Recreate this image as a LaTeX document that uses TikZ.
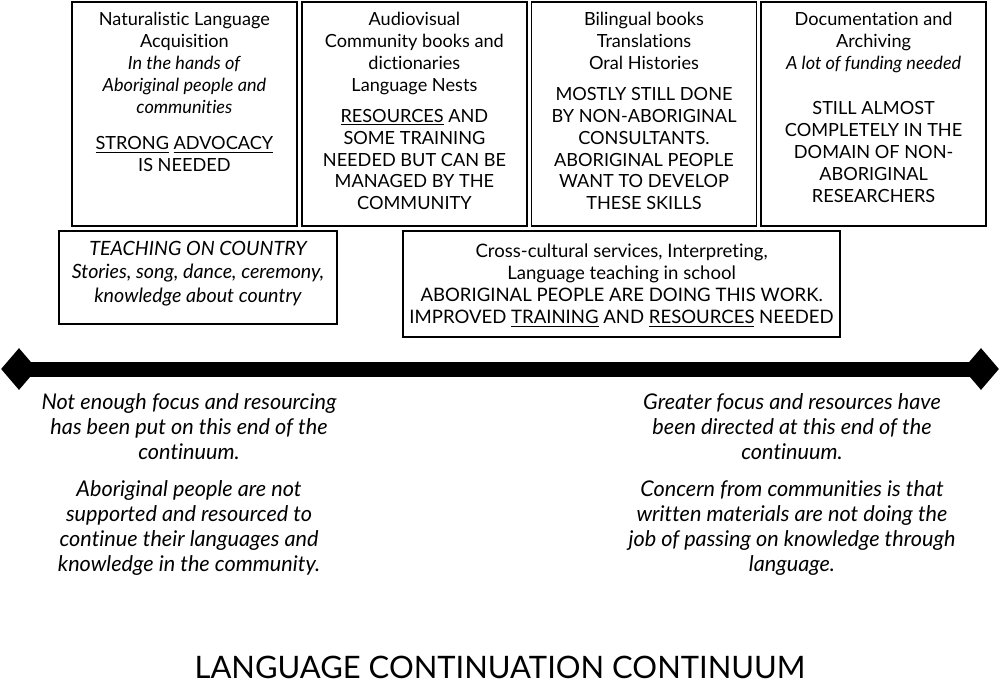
\documentclass[tikz,border=0pt]{standalone}
\usepackage{fontspec}
\setmainfont{Lato}[Ligatures=NoCommon]
\usetikzlibrary{positioning,shapes.geometric}

\tikzset{
  panel/.style={draw, line width=1.2pt, inner sep=0pt},
  paneltext/.style={align=center, inner sep=0pt, font=\fontsize{12.9}{15.6}\selectfont},
  note/.style={align=center, inner sep=0pt, font=\itshape\fontsize{15.4}{17.8}\selectfont},
  tip/.style={diamond, fill=black, inner sep=0pt, minimum width=0.9cm, minimum height=1.05cm}
}

\begin{document}
\begin{tikzpicture}
        \useasboundingbox (0,0) rectangle (25,-17.025);

        % upper boxes
        \node[panel, minimum width=5.62cm, minimum height=5.6cm] (nla) at (4.61,-2.85) {};
        \node[panel, minimum width=5.62cm, minimum height=5.6cm] (avc) at (10.36,-2.85) {};
        \node[panel, minimum width=5.62cm, minimum height=5.6cm] (bil) at (16.1,-2.85) {};
        \node[panel, minimum width=5.62cm, minimum height=5.6cm] (doc) at (21.84,-2.85) {};

        \node[paneltext, below=0.28cm of nla.north] (nlatext) {Naturalistic Language\\ Acquisition\\ \textit{In the hands of}\\ \textit{Aboriginal people and}\\ \textit{communities}\\[10pt] \underline{STRONG} \underline{ADVOCACY}\\ IS NEEDED};
        \node[paneltext, below=0.28cm of avc.north] (avctext) {Audiovisual\\ Community books and\\ dictionaries\\ Language Nests\\[6pt] \underline{RESOURCES} AND\\ SOME TRAINING\\ NEEDED BUT CAN BE\\ MANAGED BY THE\\ COMMUNITY};
        \node[paneltext, below=0.28cm of bil.north] (biltext) {Bilingual books\\ Translations\\ Oral Histories\\[6pt] MOSTLY STILL DONE\\ BY NON-ABORIGINAL\\ CONSULTANTS.\\ ABORIGINAL PEOPLE\\ WANT TO DEVELOP\\ THESE SKILLS};
        \node[paneltext, below=0.28cm of doc.north] (doctext) {Documentation and\\ Archiving\\ \textit{A lot of funding needed}\\[16pt] STILL ALMOST\\ COMPLETELY IN THE\\ DOMAIN OF NON-\\ ABORIGINAL\\ RESEARCHERS};

        % lower boxes
        \node[panel, minimum width=6.95cm, minimum height=2.33cm] (toc) at (4.95,-6.94) {};
        \node[panel, minimum width=10.92cm, minimum height=2.65cm] (ccs) at (15.54,-7.1) {};

        \node[paneltext, below=0.27cm of toc.north, font=\itshape\fontsize{14}{16.7}\selectfont] (toctext) {TEACHING ON COUNTRY\\ Stories, song, dance, ceremony,\\ knowledge about country};
        \node[paneltext, below=0.33cm of ccs.north, font=\fontsize{13.2}{15.8}\selectfont] (ccstext) {Cross-cultural services, Interpreting,\\ Language teaching in school\\ ABORIGINAL PEOPLE ARE DOING THIS WORK.\\ IMPROVED \underline{TRAINING} AND \underline{RESOURCES} NEEDED};

        % continuum line
        \node[tip] (lend) at (0.475,-9.225) {};
        \node[tip] (rend) at (24.525,-9.225) {};
        \draw[line width=0.375cm] (lend.center) -- (rend.center);

        % ends
        \node[note, anchor=north] (lnote) at (4.725,-9.82) {Not enough focus and resourcing\\ has been put on this end of the\\ continuum.\\[9pt] Aboriginal people are not\\ supported and resourced to\\ continue their languages and\\ knowledge in the community.};
        \node[note, anchor=north] (rnote) at (19.8,-9.82) {Greater focus and resources have\\ been directed at this end of the\\ continuum.\\[9pt] Concern from communities is that\\ written materials are not doing the\\ job of passing on knowledge through\\ language.};

        % title
        \node[inner sep=0pt, font=\fontsize{22}{26}\selectfont] (title) at (12.5,-16.68) {LANGUAGE CONTINUATION CONTINUUM};
\end{tikzpicture}
\end{document}
